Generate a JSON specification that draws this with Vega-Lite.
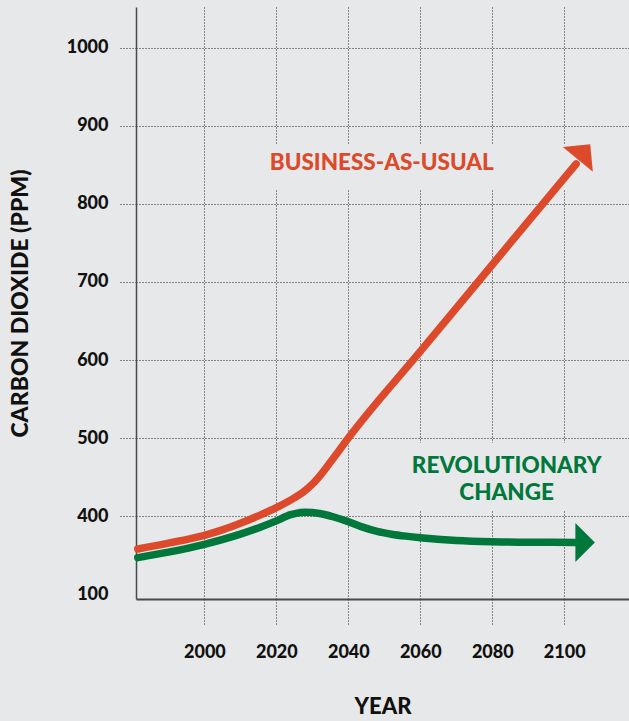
{
  "$schema": "https://vega.github.io/schema/vega-lite/v6.json",
  "width": 493,
  "height": 592,
  "autosize": {"type": "none"},
  "padding": {"left": 136, "top": 7, "right": 0, "bottom": 122},
  "background": "#e7e8e9",
  "config": {"view": {"stroke": null}, "font": "Lato"},
  "datasets": {
    "co2": [
      {"scenario": "Business-as-usual", "year": 1981.5, "ppm": 358},
      {"scenario": "Business-as-usual", "year": 1990, "ppm": 365.5},
      {"scenario": "Business-as-usual", "year": 2000, "ppm": 375.5},
      {"scenario": "Business-as-usual", "year": 2005, "ppm": 382.5},
      {"scenario": "Business-as-usual", "year": 2010, "ppm": 391},
      {"scenario": "Business-as-usual", "year": 2015, "ppm": 400.5},
      {"scenario": "Business-as-usual", "year": 2020, "ppm": 411},
      {"scenario": "Business-as-usual", "year": 2025, "ppm": 423.5},
      {"scenario": "Business-as-usual", "year": 2027.5, "ppm": 431},
      {"scenario": "Business-as-usual", "year": 2030, "ppm": 441},
      {"scenario": "Business-as-usual", "year": 2032.5, "ppm": 454},
      {"scenario": "Business-as-usual", "year": 2035, "ppm": 469},
      {"scenario": "Business-as-usual", "year": 2037.5, "ppm": 484.5},
      {"scenario": "Business-as-usual", "year": 2040, "ppm": 500},
      {"scenario": "Business-as-usual", "year": 2060, "ppm": 611},
      {"scenario": "Business-as-usual", "year": 2080, "ppm": 722},
      {"scenario": "Business-as-usual", "year": 2100, "ppm": 833},
      {"scenario": "Business-as-usual", "year": 2103.3, "ppm": 851},
      {"scenario": "Revolutionary change", "year": 1981.5, "ppm": 347},
      {"scenario": "Revolutionary change", "year": 1990, "ppm": 354},
      {"scenario": "Revolutionary change", "year": 2000, "ppm": 364},
      {"scenario": "Revolutionary change", "year": 2010, "ppm": 377},
      {"scenario": "Revolutionary change", "year": 2015, "ppm": 385},
      {"scenario": "Revolutionary change", "year": 2020, "ppm": 394},
      {"scenario": "Revolutionary change", "year": 2024, "ppm": 402},
      {"scenario": "Revolutionary change", "year": 2028, "ppm": 405},
      {"scenario": "Revolutionary change", "year": 2032, "ppm": 403.5},
      {"scenario": "Revolutionary change", "year": 2036, "ppm": 399},
      {"scenario": "Revolutionary change", "year": 2040, "ppm": 393},
      {"scenario": "Revolutionary change", "year": 2044, "ppm": 386},
      {"scenario": "Revolutionary change", "year": 2048, "ppm": 380.5},
      {"scenario": "Revolutionary change", "year": 2052, "ppm": 377},
      {"scenario": "Revolutionary change", "year": 2056, "ppm": 374.5},
      {"scenario": "Revolutionary change", "year": 2060, "ppm": 372.5},
      {"scenario": "Revolutionary change", "year": 2070, "ppm": 369},
      {"scenario": "Revolutionary change", "year": 2080, "ppm": 367.3},
      {"scenario": "Revolutionary change", "year": 2090, "ppm": 366.6},
      {"scenario": "Revolutionary change", "year": 2103, "ppm": 366.5}
    ],
    "boxes": [
      {"year": 2014, "year2": 2103, "ppm": 818, "ppm2": 876},
      {"year": 2054, "year2": 2118, "ppm": 408, "ppm2": 494}
    ],
    "labels": [
      {"scenario": "Business-as-usual", "label": "BUSINESS-AS-USUAL", "year": 2049.3, "ppm": 842.7},
      {"scenario": "Revolutionary change", "label": "REVOLUTIONARY", "year": 2084, "ppm": 454.7},
      {"scenario": "Revolutionary change", "label": "CHANGE", "year": 2084, "ppm": 420.5}
    ],
    "redHead": [{"scenario": "Business-as-usual", "year": 2105.5, "ppm": 866.5}],
    "greenHead": [{"scenario": "Revolutionary change", "year": 2105.8, "ppm": 366.5}]
  },
  "encoding": {
    "x": {
      "field": "year",
      "type": "quantitative",
      "scale": {"domain": [1981, 2118], "nice": false, "zero": false},
      "axis": {
        "values": [2000, 2020, 2040, 2060, 2080, 2100],
        "format": "d",
        "title": "YEAR",
        "grid": true,
        "gridColor": "#222222",
        "gridDash": [1, 2],
        "gridWidth": 1,
        "domainColor": "#4a4a4a",
        "domainWidth": 2,
        "ticks": true,
        "tickSize": 26.5,
        "tickDash": [1, 2],
        "tickColor": "#222222",
        "tickWidth": 1,
        "labelFont": "Lato",
        "labelFontWeight": 900,
        "labelFontSize": 18,
        "labelColor": "#111111",
        "labelPadding": 18,
        "labelFlush": false,
        "titleFont": "Lato",
        "titleFontWeight": 900,
        "titleFontSize": 22,
        "titleColor": "#111111",
        "titlePadding": 35
      }
    },
    "y": {
      "field": "ppm",
      "type": "quantitative",
      "scale": {"domain": [294, 1052], "nice": false, "zero": false},
      "axis": {
        "values": [300, 400, 500, 600, 700, 800, 900, 1000],
        "format": "d",
        "labelExpr": "datum.value == 300 ? '100' : datum.label",
        "title": "CARBON DIOXIDE (PPM)",
        "grid": true,
        "gridColor": "#222222",
        "gridDash": [1, 2],
        "gridWidth": 1,
        "gridOpacity": {"condition": {"test": "datum.value == 300", "value": 0}, "value": 1},
        "domainColor": "#4a4a4a",
        "domainWidth": 1.5,
        "ticks": true,
        "tickSize": 16,
        "tickDash": [1, 2],
        "tickColor": "#222222",
        "tickWidth": 1,
        "tickOpacity": {"condition": {"test": "datum.value == 300", "value": 0}, "value": 1},
        "labelFont": "Lato",
        "labelFontWeight": 900,
        "labelFontSize": 18,
        "labelColor": "#111111",
        "labelPadding": 12,
        "titleFont": "Lato",
        "titleFontWeight": 900,
        "titleFontSize": 23,
        "titleColor": "#111111",
        "titlePadding": 34
      }
    }
  },
  "layer": [
    {
      "data": {"name": "boxes"},
      "mark": {"type": "rect", "fill": "#e7e8e9", "stroke": null},
      "encoding": {
        "x2": {"field": "year2"},
        "y2": {"field": "ppm2"}
      }
    },
    {
      "data": {"name": "co2"},
      "mark": {"type": "line", "strokeWidth": 7.5, "strokeCap": "round", "interpolate": "monotone"},
      "encoding": {
        "color": {
          "field": "scenario",
          "type": "nominal",
          "scale": {"domain": ["Business-as-usual", "Revolutionary change"], "range": ["#dc4a2b", "#00773b"]},
          "legend": null
        },
        "detail": {"field": "scenario"}
      }
    },
    {
      "data": {"name": "redHead"},
      "mark": {"type": "point", "shape": "M -0.5 -1 L 0.5 0 L -0.5 1 Z", "filled": true, "opacity": 1, "size": 1521, "angle": 309.6, "color": "#dc4a2b"},
      "encoding": {}
    },
    {
      "data": {"name": "greenHead"},
      "mark": {"type": "point", "shape": "M -0.5 -1 L 0.5 0 L -0.5 1 Z", "filled": true, "opacity": 1, "size": 1521, "angle": 0, "color": "#00773b"},
      "encoding": {}
    },
    {
      "data": {"name": "labels"},
      "mark": {"type": "text", "font": "Lato", "fontWeight": 900, "fontSize": 22.5, "align": "center", "baseline": "alphabetic"},
      "encoding": {
        "text": {"field": "label"},
        "color": {
          "field": "scenario",
          "type": "nominal",
          "scale": {"domain": ["Business-as-usual", "Revolutionary change"], "range": ["#dc4a2b", "#00773b"]},
          "legend": null
        }
      }
    }
  ]
}
